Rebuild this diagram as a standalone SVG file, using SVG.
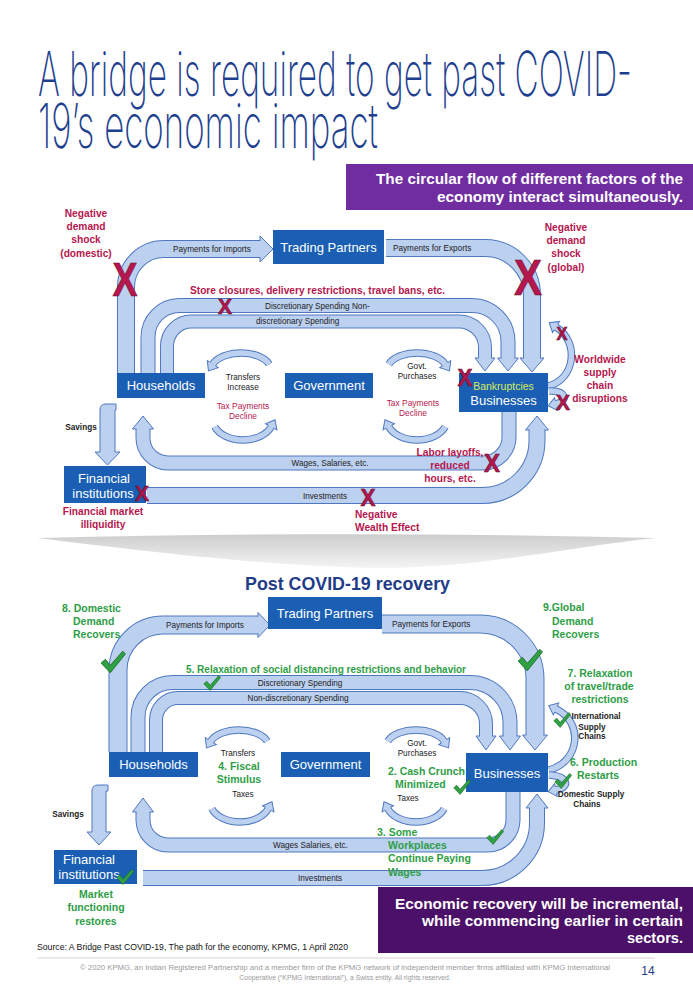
<svg xmlns="http://www.w3.org/2000/svg" xmlns:xlink="http://www.w3.org/1999/xlink" width="693" height="1000" viewBox="0 0 693 1000">
<style>
text{font-family:'Liberation Sans',Arial,sans-serif}
.ttl{font-family:Inter,Lato,'Open Sans',sans-serif;font-weight:200;font-size:62px;fill:#1E3F8F}
.bx{fill:#1A5FB4}
.bt{fill:#fff;font-size:13px;text-anchor:middle}
.sm{font-size:8.2px;fill:#222}
.smc{font-size:8.2px;fill:#222;text-anchor:middle}
.cr{fill:#B5174E;font-weight:bold;font-size:10.2px;text-anchor:middle}
.crs{fill:#B5174E;font-weight:bold;font-size:10.2px}
.crn{fill:#B5174E;font-size:8.4px;text-anchor:middle}
.gr{fill:#2E9E46;font-weight:bold;font-size:10.5px}
.grc{fill:#2E9E46;font-weight:bold;font-size:10.5px;text-anchor:middle}
.bo{fill:none;stroke:#4F78C0}
.bi{fill:none;stroke:#BCD0F0}
.ah{fill:#BCD0F0;stroke:#4F78C0;stroke-width:1}
.lo{fill:none;stroke:#4F78C0;stroke-width:7.5}
.li{fill:none;stroke:#BCD0F0;stroke-width:5.5;marker-end:url(#mh)}
.x{fill:#B5174E;font-weight:bold;stroke:#6a0d2e;stroke-width:0.6}
.pw{fill:#fff;font-weight:bold;font-size:15px}
</style>
<defs>
<marker id="mh" markerUnits="userSpaceOnUse" viewBox="-1 -8 11 16" refX="0" refY="0" markerWidth="11" markerHeight="16" orient="auto" overflow="visible">
<path class="ah" d="M0,-3.25 L0,-6.5 L8,0 L0,6.5 L0,3.25"/>
</marker>
<symbol id="ck" viewBox="0 0 24 24">
<path d="M1,13 L5,9.5 L9.5,15 L21,2 L23.5,4.5 L9.5,22 Z" fill="#2FA043" stroke="#1b6b2a" stroke-width="0.8"/>
</symbol>
<linearGradient id="sw" x1="0" y1="0" x2="0" y2="1">
<stop offset="0" stop-color="#cdcdcd"/>
<stop offset="1" stop-color="#f4f4f4"/>
</linearGradient>
</defs>
<rect width="693" height="1000" fill="#fff"/>

<g id="title">
<text class="ttl" x="38" y="96" textLength="594" lengthAdjust="spacingAndGlyphs">A bridge is required to get past COVID-</text>
<text class="ttl" x="38" y="148" textLength="340" lengthAdjust="spacingAndGlyphs">19’s economic impact</text>
</g>

<g id="callout-top">
<rect x="346" y="164" width="347" height="46" fill="#6F2DA0"/>
<text class="pw" x="376" y="184" textLength="307" lengthAdjust="spacingAndGlyphs">The circular flow of different factors of the</text>
<text class="pw" x="437" y="202" textLength="246" lengthAdjust="spacingAndGlyphs">economy interact simultaneously.</text>
</g>

<g id="connectors">
<path class="bo" stroke-width="18" d="M126,373 V287 A38,38 0 0 1 164,249 H260"/>
<path class="bi" stroke-width="16" d="M126,373 V287 A38,38 0 0 1 164,249 H260"/>
<path class="ah" d="M260,241 V236 L273,249 L260,262 V257"/>

<path class="bo" stroke-width="18" d="M386,248 H485 A47,47 0 0 1 532,295 V358"/>
<path class="bi" stroke-width="16" d="M386,248 H485 A47,47 0 0 1 532,295 V358"/>
<path class="ah" d="M524,358 H520 L532,372 L544,358 H540"/>

<path class="bo" stroke-width="15" d="M148,373 V337 A31.5,31.5 0 0 1 179.5,305.5 H472 A36,36 0 0 1 508,341.5 V358"/>
<path class="bi" stroke-width="13" d="M148,373 V337 A31.5,31.5 0 0 1 179.5,305.5 H472 A36,36 0 0 1 508,341.5 V358"/>
<path class="ah" d="M501.5,358 H497.5 L508,371 L518.5,358 H514.5"/>

<path class="bo" stroke-width="14" d="M167,373 V346 A24.5,24.5 0 0 1 191.5,321.5 H459 A26,26 0 0 1 485,347.5 V358"/>
<path class="bi" stroke-width="12" d="M167,373 V346 A24.5,24.5 0 0 1 191.5,321.5 H459 A26,26 0 0 1 485,347.5 V358"/>
<path class="ah" d="M479,358 H475 L485,371 L495,358 H491"/>

<path class="bo" stroke-width="15" d="M509,412 V437 A26,26 0 0 1 483,463 H168 A25,25 0 0 1 143,438 V429"/>
<path class="bi" stroke-width="13" d="M509,412 V437 A26,26 0 0 1 483,463 H168 A25,25 0 0 1 143,438 V429"/>
<path class="ah" d="M136.5,429 H132.5 L143,416 L153.5,429 H149.5"/>

<path class="bo" stroke-width="17" d="M147,495.5 H482 A55,55 0 0 0 537,440.5 V430"/>
<path class="bi" stroke-width="15" d="M147,495.5 H482 A55,55 0 0 0 537,440.5 V430"/>
<path class="ah" d="M529.5,430 H525.5 L537,416 L548.5,430 H544.5"/>

<path class="ah" d="M100,452 V410 Q100,404 106,404 H116 V410 H115 V452 H120 L107.5,465 L95,452 Z"/>

<path class="lo" d="M269.2,364.2 A30,17 0 0 0 212.8,364.2"/>
<path class="li" d="M269.2,364.2 A30,17 0 0 0 212.8,364.2"/>
<path class="lo" d="M214.8,426.8 A30,20 0 0 0 271.2,426.8"/>
<path class="li" d="M214.8,426.8 A30,20 0 0 0 271.2,426.8"/>
<path class="lo" d="M388.8,364.2 A30,17 0 0 1 445.2,364.2"/>
<path class="li" d="M388.8,364.2 A30,17 0 0 1 445.2,364.2"/>
<path class="lo" d="M445.2,426.8 A30,20 0 0 1 388.8,426.8"/>
<path class="li" d="M445.2,426.8 A30,20 0 0 1 388.8,426.8"/>

<path class="lo" d="M548,386 C575,380 580,342 556,327"/>
<path class="li" d="M548,386 C575,380 580,342 556,327"/>
<path class="lo" d="M549,391 C566,390 569,401 556,404"/>
<path class="li" d="M549,391 C566,390 569,401 556,404"/>

<path class="bo" stroke-width="19" d="M118,752 V670 A45,45 0 0 1 163,625 H258"/>
<path class="bi" stroke-width="17" d="M118,752 V670 A45,45 0 0 1 163,625 H258"/>
<path class="ah" d="M258,616.5 V612.5 L270,625 L258,637.5 V633.5"/>

<path class="bo" stroke-width="19" d="M382,624 H480 A55,55 0 0 1 535,679 V735"/>
<path class="bi" stroke-width="17" d="M382,624 H480 A55,55 0 0 1 535,679 V735"/>
<path class="ah" d="M526.5,735 H522.5 L535,750 L547.5,735 H543.5"/>

<path class="bo" stroke-width="15" d="M138,752 V717 A34.5,34.5 0 0 1 172.5,682.5 H470 A40,40 0 0 1 510,722.5 V736"/>
<path class="bi" stroke-width="13" d="M138,752 V717 A34.5,34.5 0 0 1 172.5,682.5 H470 A40,40 0 0 1 510,722.5 V736"/>
<path class="ah" d="M503.5,736 H499.5 L510,750 L520.5,736 H516.5"/>

<path class="bo" stroke-width="14" d="M156,752 V720 A22,22 0 0 1 178,698 H460 A26,26 0 0 1 486,724 V736"/>
<path class="bi" stroke-width="12" d="M156,752 V720 A22,22 0 0 1 178,698 H460 A26,26 0 0 1 486,724 V736"/>
<path class="ah" d="M480,736 H476 L486,750 L496,736 H492"/>

<path class="bo" stroke-width="15" d="M513,792 V820 A25,25 0 0 1 488,845 H168 A25,25 0 0 1 143,820 V812"/>
<path class="bi" stroke-width="13" d="M513,792 V820 A25,25 0 0 1 488,845 H168 A25,25 0 0 1 143,820 V812"/>
<path class="ah" d="M136.5,812 H132.5 L143,798 L153.5,812 H149.5"/>

<path class="bo" stroke-width="16" d="M143,878 H482 A55,55 0 0 0 537,823 V808"/>
<path class="bi" stroke-width="14" d="M143,878 H482 A55,55 0 0 0 537,823 V808"/>
<path class="ah" d="M530,808 H526 L537,794 L548,808 H544"/>

<path class="ah" d="M92,832 V791 Q92,785 98,785 H108 V791 H106 V832 H111 L99,845 L87,832 Z"/>

<path class="lo" d="M267.2,741.2 A30,17 0 0 0 210.8,741.2"/>
<path class="li" d="M267.2,741.2 A30,17 0 0 0 210.8,741.2"/>
<path class="lo" d="M211.8,808.8 A30,20 0 0 0 268.2,808.8"/>
<path class="li" d="M211.8,808.8 A30,20 0 0 0 268.2,808.8"/>
<path class="lo" d="M387.8,741.2 A30,17 0 0 1 444.2,741.2"/>
<path class="li" d="M387.8,741.2 A30,17 0 0 1 444.2,741.2"/>
<path class="lo" d="M444.2,808.8 A30,20 0 0 1 387.8,808.8"/>
<path class="li" d="M444.2,808.8 A30,20 0 0 1 387.8,808.8"/>

<path class="lo" d="M549,770 C580,762 584,722 556,709"/>
<path class="li" d="M549,770 C580,762 584,722 556,709"/>
<path class="lo" d="M549,775 C568,776 571,787 556,790"/>
<path class="li" d="M549,775 C568,776 571,787 556,790"/>
</g>

<g id="flow-labels">
<text class="smc" x="212" y="252">Payments for Imports</text>
<text class="sm" x="393" y="251">Payments for Exports</text>
<text class="sm" x="265" y="308.5">Discretionary Spending  Non-</text>
<text class="sm" x="256" y="324">discretionary Spending</text>
<text class="smc" x="330" y="466">Wages, Salaries, etc.</text>
<text class="smc" x="325" y="498.5">Investments</text>
<text class="smc" x="81" y="430" font-weight="bold">Savings</text>
<text class="smc" x="243" y="380">Transfers</text>
<text class="smc" x="243" y="390">Increase</text>
<text class="crn" x="243" y="409">Tax Payments</text>
<text class="crn" x="243" y="419">Decline</text>
<text class="smc" x="417" y="369">Govt.</text>
<text class="smc" x="417" y="379">Purchases</text>
<text class="crn" x="413" y="406">Tax Payments</text>
<text class="crn" x="413" y="416">Decline</text>

<text class="smc" x="205" y="628">Payments for Imports</text>
<text class="sm" x="392" y="627">Payments for Exports</text>
<text class="smc" x="300" y="685.5">Discretionary Spending</text>
<text class="smc" x="298" y="701">Non-discretionary Spending</text>
<text class="sm" x="273" y="848">Wages  Salaries, etc.</text>
<text class="smc" x="320" y="881">Investments</text>
<text class="smc" x="68" y="817" font-weight="bold">Savings</text>
<text class="smc" x="238" y="756">Transfers</text>
<text class="smc" x="243" y="797">Taxes</text>
<text class="smc" x="417" y="746">Govt.</text>
<text class="smc" x="417" y="756">Purchases</text>
<text class="smc" x="408" y="801">Taxes</text>
<text class="smc" x="596" y="719" font-weight="bold">International</text>
<text class="smc" x="592" y="730" font-weight="bold">Supply</text>
<text class="smc" x="592" y="739" font-weight="bold">Chains</text>
<text class="smc" x="591" y="797" font-weight="bold">Domestic Supply</text>
<text class="smc" x="587" y="807" font-weight="bold">Chains</text>
</g>

<g id="trading-partners-top">
<rect class="bx" x="273" y="230" width="111" height="34"/>
<text class="bt" x="328.5" y="252">Trading Partners</text>
</g>
<g id="households-top">
<rect class="bx" x="117" y="373" width="88" height="25"/>
<text class="bt" x="161" y="390" font-size="12.5">Households</text>
</g>
<g id="government-top">
<rect class="bx" x="285" y="373" width="88" height="25"/>
<text class="bt" x="329" y="390" font-size="12.5">Government</text>
</g>
<g id="businesses-top">
<rect class="bx" x="459" y="373" width="89" height="39"/>
<text x="503.5" y="390" font-size="10.5" fill="#D6EC5A" text-anchor="middle">Bankruptcies</text>
<text class="bt" x="503.5" y="405">Businesses</text>
</g>
<g id="financial-top">
<rect class="bx" x="64" y="466" width="82" height="37"/>
<text class="bt" x="104" y="483" font-size="12.5">Financial</text>
<text class="bt" x="103" y="498" font-size="12.5">institutions</text>
</g>

<g id="shocks-top">
<text class="cr" x="86" y="217">Negative</text>
<text class="cr" x="86" y="230">demand</text>
<text class="cr" x="86" y="243">shock</text>
<text class="cr" x="86" y="257">(domestic)</text>
<text class="cr" x="566" y="231">Negative</text>
<text class="cr" x="566" y="244">demand</text>
<text class="cr" x="566" y="257">shock</text>
<text class="cr" x="566" y="271">(global)</text>
<text class="crs" x="190" y="294" textLength="255" lengthAdjust="spacingAndGlyphs">Store closures, delivery restrictions, travel bans, etc.</text>
<text class="cr" x="600" y="363">Worldwide</text>
<text class="cr" x="600" y="376">supply</text>
<text class="cr" x="600" y="389">chain</text>
<text class="cr" x="600" y="402">disruptions</text>
<text class="cr" x="450" y="456">Labor layoffs,</text>
<text class="cr" x="450" y="469" font-weight="normal">reduced</text>
<text class="cr" x="450" y="482">hours,  etc.</text>
<text class="crs" x="355" y="518">Negative</text>
<text class="crs" x="355" y="531">Wealth  Effect</text>
<text class="cr" x="103" y="515">Financial market</text>
<text class="cr" x="103" y="528">illiquidity</text>
<text class="x" x="112.5" y="295.5" font-size="49" textLength="25" lengthAdjust="spacingAndGlyphs">X</text>
<text class="x" x="514" y="295" font-size="50" textLength="28" lengthAdjust="spacingAndGlyphs">X</text>
<text class="x" x="218" y="314" font-size="22" textLength="14" lengthAdjust="spacingAndGlyphs">X</text>
<text class="x" x="457.5" y="385.5" font-size="24" textLength="15" lengthAdjust="spacingAndGlyphs">X</text>
<text class="x" x="556.5" y="339.5" font-size="18" textLength="11" lengthAdjust="spacingAndGlyphs">X</text>
<text class="x" x="556" y="410" font-size="22" textLength="14" lengthAdjust="spacingAndGlyphs">X</text>
<text class="x" x="484" y="472" font-size="25" textLength="16" lengthAdjust="spacingAndGlyphs">X</text>
<text class="x" x="135" y="501" font-size="22" textLength="14" lengthAdjust="spacingAndGlyphs">X</text>
<text class="x" x="360.5" y="505.5" font-size="24" textLength="15" lengthAdjust="spacingAndGlyphs">X</text>
</g>

<g id="divider">
<path d="M37,538 C250,533 450,533 656,538 C560,548 470,570 370,568 C250,565 120,548 37,538 Z" fill="url(#sw)"/>
</g>

<g id="recovery-title">
<text x="245" y="590" font-size="17.5" font-weight="bold" fill="#1F3C88" textLength="205" lengthAdjust="spacingAndGlyphs">Post COVID-19 recovery</text>
</g>

<g id="trading-partners-bottom">
<rect class="bx" x="268" y="597" width="114" height="32"/>
<text class="bt" x="325" y="618">Trading Partners</text>
</g>
<g id="households-bottom">
<rect class="bx" x="109" y="752" width="89" height="25"/>
<text class="bt" x="153.5" y="769" font-size="12.5">Households</text>
</g>
<g id="government-bottom">
<rect class="bx" x="281" y="752" width="89" height="25"/>
<text class="bt" x="325.5" y="769" font-size="12.5">Government</text>
</g>
<g id="businesses-bottom">
<rect class="bx" x="466" y="753" width="82" height="39"/>
<text class="bt" x="507" y="778" font-size="14.5">Businesses</text>
</g>
<g id="financial-bottom">
<rect class="bx" x="54" y="850" width="83" height="34"/>
<text class="bt" x="89" y="864" font-size="12.5">Financial</text>
<text class="bt" x="89" y="879" font-size="12.5">institutions</text>
</g>

<g id="recovery-steps">
<text class="gr" x="62" y="612">8. Domestic</text>
<text class="gr" x="73" y="625">Demand</text>
<text class="gr" x="73" y="638">Recovers</text>
<text class="gr" x="543" y="611">9.Global</text>
<text class="gr" x="552" y="625">Demand</text>
<text class="gr" x="552" y="638">Recovers</text>
<text class="gr" x="186" y="673" textLength="280" lengthAdjust="spacingAndGlyphs">5. Relaxation of social distancing restrictions and behavior</text>
<text class="grc" x="600" y="677">7. Relaxation</text>
<text class="grc" x="599" y="690">of travel/trade</text>
<text class="grc" x="600" y="703">restrictions</text>
<text class="grc" x="239" y="770">4. Fiscal</text>
<text class="grc" x="239" y="783">Stimulus</text>
<text class="gr" x="388" y="775">2. Cash Crunch</text>
<text class="gr" x="395" y="788">Minimized</text>
<text class="gr" x="570" y="766">6. Production</text>
<text class="gr" x="577" y="779">Restarts</text>
<text class="gr" x="377" y="836">3. Some</text>
<text class="gr" x="388" y="849">Workplaces</text>
<text class="gr" x="388" y="862">Continue  Paying</text>
<text class="gr" x="388" y="876">Wages</text>
<text class="grc" x="96" y="898">Market</text>
<text class="grc" x="96" y="911">functioning</text>
<text class="grc" x="96" y="925">restores</text>
<use href="#ck" x="100" y="649" width="26" height="26"/>
<use href="#ck" x="203" y="674" width="18" height="18"/>
<use href="#ck" x="517" y="647" width="26" height="26"/>
<use href="#ck" x="553" y="711" width="18" height="18"/>
<use href="#ck" x="453" y="778" width="18" height="18"/>
<use href="#ck" x="554" y="772" width="18" height="18"/>
<use href="#ck" x="486" y="828" width="18" height="18"/>
<use href="#ck" x="116" y="868" width="18" height="18"/>
</g>

<g id="callout-bottom">
<rect x="378" y="887" width="315" height="66" fill="#4B1067"/>
<text class="pw" x="395" y="909" textLength="288" lengthAdjust="spacingAndGlyphs">Economic recovery will be incremental,</text>
<text class="pw" x="422" y="926" textLength="261" lengthAdjust="spacingAndGlyphs">while commencing earlier in certain</text>
<text class="pw" x="627" y="943" textLength="56" lengthAdjust="spacingAndGlyphs">sectors.</text>
</g>

<g id="footer">
<text x="37" y="950" font-size="8.8" fill="#111" textLength="311" lengthAdjust="spacingAndGlyphs">Source: A Bridge Past COVID-19, The path for the economy, KPMG, 1 April 2020</text>
<line x1="37" y1="958" x2="655" y2="958" stroke="#c8c8c8" stroke-width="0.8"/>
<text x="80" y="970" font-size="6.8" fill="#9a9a9a" textLength="530" lengthAdjust="spacingAndGlyphs">© 2020 KPMG, an Indian Registered Partnership and a member firm of the KPMG network of independent member firms affiliated with KPMG International</text>
<text x="345" y="980" font-size="6.8" fill="#9a9a9a" text-anchor="middle">Cooperative (“KPMG International”), a Swiss entity. All rights reserved.</text>
<text x="648" y="975" font-size="12" fill="#1F3C88" text-anchor="middle">14</text>
</g>
</svg>
